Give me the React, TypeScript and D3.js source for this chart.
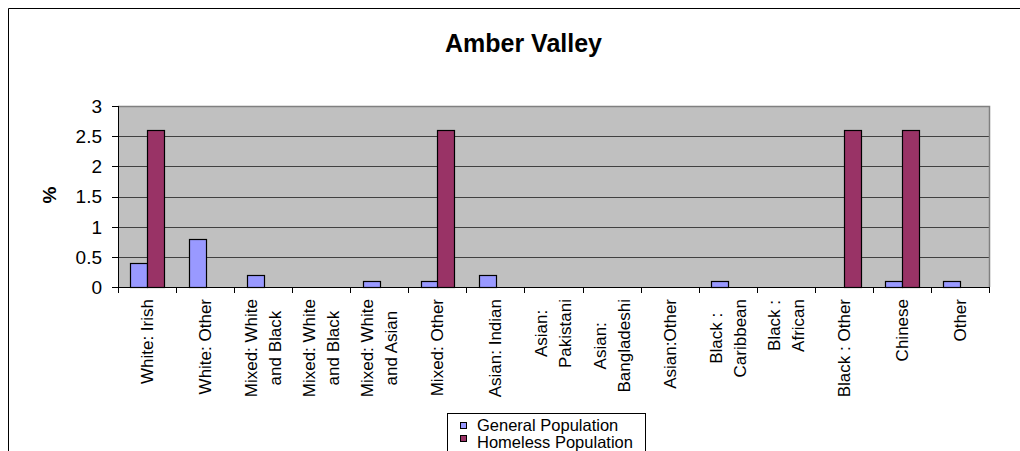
import React, { useEffect, useRef } from 'react';
import * as d3 from 'd3';

const chartTitle = 'Amber Valley';
const yAxisLabel = '%';
const categories = [
  'White: Irish',
  'White: Other',
  'Mixed: White\nand Black',
  'Mixed: White\nand Black',
  'Mixed: White\nand Asian',
  'Mixed: Other',
  'Asian: Indian',
  'Asian:\nPakistani',
  'Asian:\nBangladeshi',
  'Asian:Other',
  'Black :\nCaribbean',
  'Black :\nAfrican',
  'Black : Other',
  'Chinese',
  'Other',
];
const generalPopulation = [0.4, 0.8, 0.2, 0, 0.1, 0.1, 0.2, 0, 0, 0, 0.1, 0, 0, 0.1, 0.1];
const homelessPopulation = [2.6, 0, 0, 0, 0, 2.6, 0, 0, 0, 0, 0, 0, 2.6, 2.6, 0];
const yTicks = [0, 0.5, 1, 1.5, 2, 2.5, 3];
const seriesNames = ['General Population', 'Homeless Population'];
const seriesColors = ['#9999FF', '#993366'];

const FONT = '"Liberation Sans", Arial, Helvetica, sans-serif';

export default function App() {
  const ref = useRef<SVGSVGElement>(null);

  useEffect(() => {
    const svg = d3.select(ref.current);
    svg.selectAll('*').remove();

    const left = 118;
    const right = 989;
    const top = 106;
    const bottom = 287;

    const x = d3
      .scaleBand<number>()
      .domain(d3.range(categories.length))
      .range([left, right])
      .paddingInner(0)
      .paddingOuter(0);
    const y = d3.scaleLinear().domain([0, 3]).range([bottom, top]);
    const bw = x.bandwidth();
    const barW = bw / 3.5;
    const gap = barW * 0.75;

    // outer chart border (top and left visible)
    svg.append('path')
      .attr('d', 'M8.5,451 L8.5,8.5 L1020,8.5')
      .attr('fill', 'none')
      .attr('stroke', '#000')
      .attr('stroke-width', 1);

    // title
    svg.append('text')
      .attr('x', 523.5)
      .attr('y', 52)
      .attr('text-anchor', 'middle')
      .attr('font-family', FONT)
      .attr('font-weight', 'bold')
      .attr('font-size', 25)
      .text(chartTitle);

    // plot background
    svg.append('rect')
      .attr('x', left)
      .attr('y', top)
      .attr('width', right - left)
      .attr('height', bottom - top)
      .attr('fill', '#C0C0C0');

    // gridlines
    svg.append('g')
      .selectAll('line')
      .data(yTicks.filter((t) => t > 0 && t < 3))
      .join('line')
      .attr('x1', left)
      .attr('x2', right)
      .attr('y1', (d) => Math.round(y(d)) + 0.5)
      .attr('y2', (d) => Math.round(y(d)) + 0.5)
      .attr('stroke', '#404040')
      .attr('stroke-width', 1);

    // plot border top/right
    svg.append('path')
      .attr('d', `M${left},${top + 0.5} L${right + 0.5},${top + 0.5} L${right + 0.5},${bottom}`)
      .attr('fill', 'none')
      .attr('stroke', '#808080')
      .attr('stroke-width', 1.5);

    // bars
    const bars: { i: number; s: number; v: number }[] = [];
    categories.forEach((_, i) => {
      [generalPopulation[i], homelessPopulation[i]].forEach((v, s) => {
        if (v > 0) bars.push({ i, s, v });
      });
    });
    svg.append('g')
      .selectAll('rect')
      .data(bars)
      .join('rect')
      .attr('x', (d) => Math.round((x(d.i) as number) + gap + d.s * barW) + 0.5)
      .attr('y', (d) => Math.round(y(d.v)) + 0.5)
      .attr('width', () => Math.round(barW))
      .attr('height', (d) => Math.round(y(0)) - Math.round(y(d.v)))
      .attr('fill', (d) => seriesColors[d.s])
      .attr('stroke', '#000')
      .attr('stroke-width', 1.2);

    // y axis
    svg.append('line')
      .attr('x1', left + 0.5)
      .attr('x2', left + 0.5)
      .attr('y1', top)
      .attr('y2', bottom + 1)
      .attr('stroke', '#000');
    const yt = svg.append('g');
    yt.selectAll('line')
      .data(yTicks)
      .join('line')
      .attr('x1', left - 6)
      .attr('x2', left)
      .attr('y1', (d) => Math.round(y(d)) + 0.5)
      .attr('y2', (d) => Math.round(y(d)) + 0.5)
      .attr('stroke', '#000');
    yt.selectAll('text')
      .data(yTicks)
      .join('text')
      .attr('x', 102)
      .attr('y', (d) => y(d))
      .attr('dy', '0.36em')
      .attr('text-anchor', 'end')
      .attr('font-family', FONT)
      .attr('font-size', 19)
      .text((d) => String(d));

    // y axis title
    svg.append('text')
      .attr('transform', 'translate(49,195) rotate(-90)')
      .attr('dy', '0.35em')
      .attr('text-anchor', 'middle')
      .attr('font-family', FONT)
      .attr('font-weight', 'bold')
      .attr('font-size', 19)
      .text(yAxisLabel);

    // x axis
    svg.append('line')
      .attr('x1', left)
      .attr('x2', right + 1)
      .attr('y1', bottom + 0.5)
      .attr('y2', bottom + 0.5)
      .attr('stroke', '#000');
    svg.append('g')
      .selectAll('line')
      .data(d3.range(categories.length + 1))
      .join('line')
      .attr('x1', (d) => Math.round(left + d * bw) + 0.5)
      .attr('x2', (d) => Math.round(left + d * bw) + 0.5)
      .attr('y1', bottom)
      .attr('y2', bottom + 6)
      .attr('stroke', '#000');

    // category labels
    const labelTop = 299;
    const lineGap = 24;
    categories.forEach((c, i) => {
      const lines = c.split('\n');
      const cx = (x(i) as number) + bw / 2;
      const g = svg.append('g');
      const texts = lines.map((ln) =>
        g.append('text')
          .attr('text-anchor', 'middle')
          .attr('dy', '0.35em')
          .attr('font-family', FONT)
          .attr('font-size', 17)
          .text(ln)
      );
      const lens = texts.map((t) => (t.node() as SVGTextElement).getComputedTextLength());
      const maxLen = d3.max(lens) || 0;
      const cy = labelTop + maxLen / 2;
      texts.forEach((t, k) => {
        const lx = cx + (k - (lines.length - 1) / 2) * lineGap;
        t.attr('transform', `translate(${lx},${cy}) rotate(-90)`);
      });
    });

    // legend
    const lg = svg.append('g');
    lg.append('rect')
      .attr('x', 447.5)
      .attr('y', 413.5)
      .attr('width', 198)
      .attr('height', 60)
      .attr('fill', '#fff')
      .attr('stroke', '#000');
    seriesNames.forEach((n, k) => {
      lg.append('rect')
        .attr('x', 460.5)
        .attr('y', 422.5 + k * 13)
        .attr('width', 6)
        .attr('height', 6)
        .attr('fill', seriesColors[k])
        .attr('stroke', '#000');
      lg.append('text')
        .attr('x', 477)
        .attr('y', 430.5 + k * 17)
        .attr('font-family', FONT)
        .attr('font-size', 16.5)
        .text(n);
    });
  }, []);

  return (
    <svg
      ref={ref}
      width={1020}
      height={451}
      style={{ position: 'absolute', left: 0, top: 0, background: '#fff' }}
    />
  );
}
